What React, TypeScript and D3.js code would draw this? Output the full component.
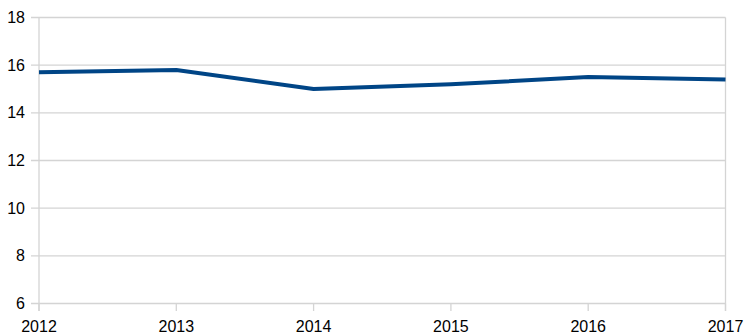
import React from "react";
import * as d3 from "d3";

const years = [2012, 2013, 2014, 2015, 2016, 2017];
const values = [15.7, 15.8, 15.0, 15.2, 15.5, 15.4];
const yTicks = [6, 8, 10, 12, 14, 16, 18];

const W = 754;
const H = 335;
const left = 39;
const right = 725.5;
const top = 17.5;
const bottom = 303.5;

export default function App() {
  const x = d3.scaleLinear().domain([2012, 2017]).range([left, right]);
  const y = d3.scaleLinear().domain([6, 18]).range([bottom, top]);
  const line = d3
    .line<number>()
    .x((_, i) => x(years[i]))
    .y((d) => y(d));
  const grid = "#d4d4d4";
  const font = "Liberation Sans, Arial, sans-serif";
  return (
    <svg
      width={W}
      height={H}
      style={{ position: "absolute", left: 0, top: 0, background: "#fff" }}
    >
      {yTicks.map((t) => (
        <g key={t}>
          <line x1={31} x2={right} y1={y(t)} y2={y(t)} stroke={grid} strokeWidth={1.3} />
          <text
            x={25}
            y={y(t)}
            textAnchor="end"
            dominantBaseline="central"
            fontFamily={font}
            fontSize={16}
            fill="#000"
          >
            {t}
          </text>
        </g>
      ))}
      <line x1={left} x2={left} y1={top} y2={311} stroke={grid} strokeWidth={1.3} />
      <line x1={right} x2={right} y1={top} y2={311} stroke={grid} strokeWidth={1.3} />
      {years.map((yr) => (
        <g key={yr}>
          <line x1={x(yr)} x2={x(yr)} y1={bottom} y2={311} stroke={grid} strokeWidth={1.3} />
          <text
            x={x(yr)}
            y={332}
            textAnchor="middle"
            fontFamily={font}
            fontSize={16}
            fill="#000"
          >
            {yr}
          </text>
        </g>
      ))}
      <path
        d={line(values) || ""}
        fill="none"
        stroke="#004586"
        strokeWidth={4}
        strokeLinejoin="round"
      />
    </svg>
  );
}
